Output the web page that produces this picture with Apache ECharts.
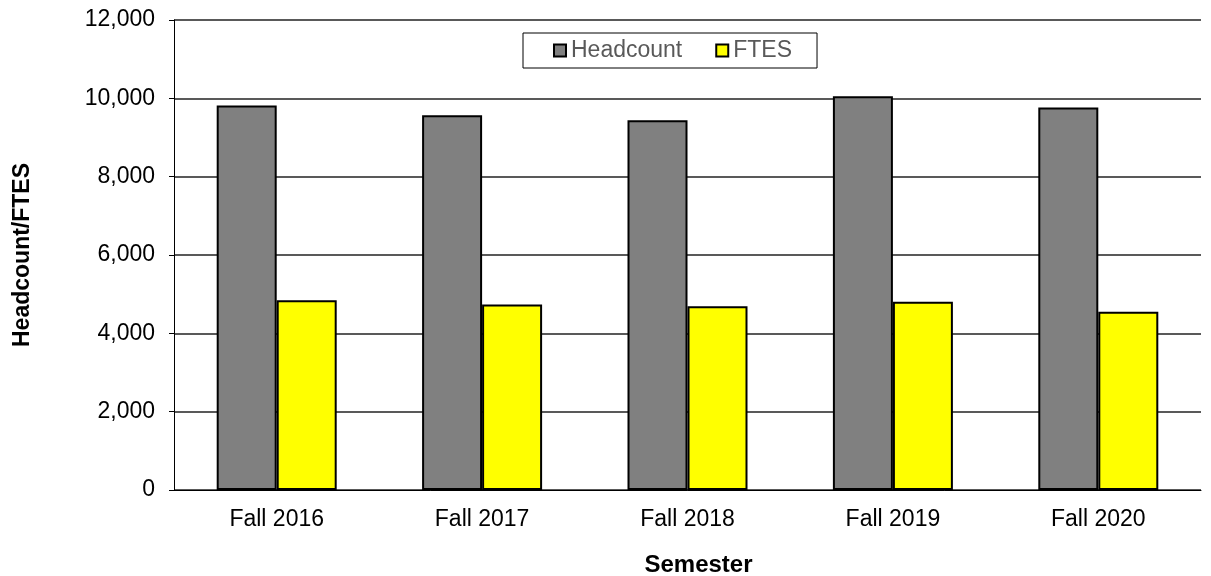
<!DOCTYPE html>
<html>
<head>
    <meta charset="UTF-8">
    <title>Headcount / FTES</title>
    <script src="https://cdn.jsdelivr.net/npm/echarts@6/dist/echarts.min.js"></script>
    <style>
        html, body { margin: 0; padding: 0; overflow: hidden; }
    </style>
</head>
<body>
    <div id="chartBox" style="width:1211px;height:576px;"></div>

    <script>
        // data
        var semesters = ['Fall 2016', 'Fall 2017', 'Fall 2018', 'Fall 2019', 'Fall 2020'];
        var headcount = [9814, 9566, 9439, 10051, 9763];
        var ftes = [4847, 4737, 4694, 4804, 4549];

        var myChart = echarts.init(document.getElementById('chartBox'));

        var option = {
            textStyle: { fontFamily: 'Liberation Sans, Arial, sans-serif' },
            animation: false,
            grid: {
                left: 174,
                right: 10,
                top: 20,
                bottom: 86,
                outerBoundsMode: 'none'
            },
            legend: {
                data: ['Headcount', 'FTES'],
                top: 33,
                left: 523,
                padding: [6, 25, 6, 30],
                borderColor: '#000',
                borderWidth: 1,
                itemWidth: 12,
                itemHeight: 12,
                itemGap: 33,
                icon: 'rect',
                itemStyle: { borderColor: '#000', borderWidth: 2 },
                textStyle: { fontSize: 23, color: '#595959' }
            },
            xAxis: {
                type: 'category',
                data: semesters,
                name: 'Semester',
                nameLocation: 'middle',
                nameGap: 63,
                nameTextStyle: { fontSize: 24, fontWeight: 'bold', color: '#000', padding: [0, 0, 0, 22] },
                axisLine: { lineStyle: { color: '#000', width: 1 } },
                axisTick: { show: false },
                axisLabel: { fontSize: 23, color: '#000', margin: 18 }
            },
            yAxis: {
                type: 'value',
                min: 0,
                max: 12000,
                interval: 2000,
                name: 'Headcount/FTES',
                nameLocation: 'middle',
                nameGap: 140,
                nameTextStyle: { fontSize: 23, fontWeight: 'bold', color: '#000' },
                axisLine: { show: true, lineStyle: { color: '#000', width: 1 } },
                axisTick: { show: true, length: 5, lineStyle: { color: '#000' } },
                axisLabel: {
                    fontSize: 23, color: '#000', margin: 19,
                    formatter: function (v) { return v.toLocaleString('en-US'); }
                },
                splitLine: { lineStyle: { color: '#222', width: 1.5 } }
            },
            series: [{
                name: 'Headcount',
                type: 'bar',
                data: headcount,
                barWidth: 60,
                barGap: '0%',
                itemStyle: { color: '#808080', borderColor: '#000', borderWidth: 2 }
            }, {
                name: 'FTES',
                type: 'bar',
                data: ftes,
                barWidth: 60,
                barGap: '0%',
                itemStyle: { color: '#ffff00', borderColor: '#000', borderWidth: 2 }
            }]
        };

        myChart.setOption(option);
    </script>
</body>
</html>
